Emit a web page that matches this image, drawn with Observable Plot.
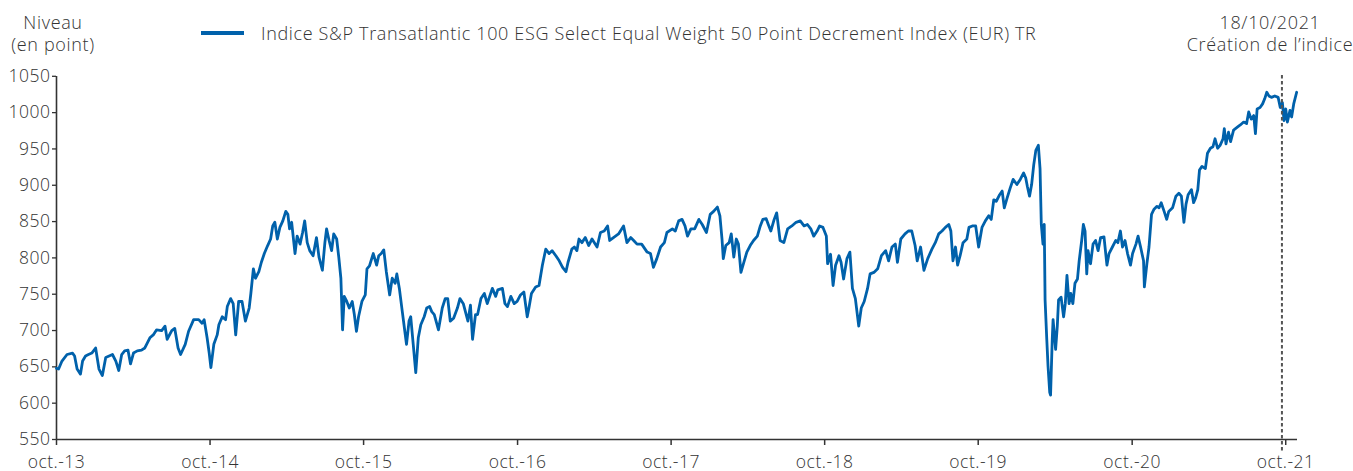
<!DOCTYPE html>
<html>
<head>
<meta charset="utf-8">
<script src="https://cdn.jsdelivr.net/npm/d3@7"></script>
<script src="https://cdn.jsdelivr.net/npm/@observablehq/plot@0.6"></script>
<style>
  body { margin: 0; background: #fff; }
  #wrap { position: relative; width: 1353px; height: 471px; font-family: "Open Sans", Lato, sans-serif; color: #333; font-weight: 300; }
  #wrap svg { position: absolute; left: 0; top: 0; }
  .lbl { position: absolute; font-size: 18px; letter-spacing: 0.65px; line-height: 22px; white-space: nowrap; }
  #swatch { position: absolute; left: 201px; top: 31px; width: 43px; height: 4px; }
</style>
</head>
<body>
<div id="wrap"></div>
<script>
// ---- data ----
const seriesName = "Indice S&P Transatlantic 100 ESG Select Equal Weight 50 Point Decrement Index (EUR) TR";
const yAxisTitle = ["Niveau", "(en point)"];
const creationLabel = ["18/10/2021", "Création de l\u2019indice"];
const creationRuleDate = "2021-09-22"; // where the dashed line sits in the picture
const xTickDates = ["2013-10-01","2014-10-01","2015-10-01","2016-10-01","2017-10-01","2018-10-01","2019-10-01","2020-10-01","2021-10-01"];
const xTickLabels = ["oct.-13","oct.-14","oct.-15","oct.-16","oct.-17","oct.-18","oct.-19","oct.-20","oct.-21"];
const yTicks = [550,600,650,700,750,800,850,900,950,1000,1050];

const y2013 = [["10-01",648],["10-06",647],["10-14",658],["10-26",667],["11-08",669],["11-13",665],["11-19",647],["11-27",640],["12-02",658],["12-09",665],["12-16",667],["12-24",669]];
const y2014 = [["01-02",676],["01-10",647],["01-18",638],["01-26",663],["02-03",665],["02-11",667],["02-19",658],["02-26",645],["03-05",667],["03-12",672],["03-20",673],["03-26",654],["04-02",669],["04-11",672],["04-21",673],["04-29",676],["05-11",690],["05-19",694],["05-27",701],["06-08",700],["06-16",706],["06-21",688],["07-02",700],["07-09",703],["07-17",676],["07-23",667],["08-03",681],["08-11",699],["08-23",715],["09-04",715],["09-12",710],["09-17",715],["09-24",690],["09-29",669],["10-03",649],["10-10",681],["10-18",694],["10-22",708],["10-30",719],["11-07",715],["11-11",733],["11-19",744],["11-25",737],["12-01",694],["12-08",740],["12-16",740],["12-24",713]];
const y2015 = [["01-02",731],["01-06",751],["01-12",785],["01-17",772],["01-25",781],["01-31",794],["02-07",806],["02-15",817],["02-22",826],["02-27",844],["03-04",849],["03-10",826],["03-16",842],["03-23",851],["03-30",864],["04-04",860],["04-08",840],["04-13",849],["04-21",806],["04-26",830],["05-03",819],["05-09",835],["05-14",851],["05-20",821],["05-26",810],["06-03",803],["06-11",828],["06-17",801],["06-25",783],["07-01",821],["07-05",840],["07-11",824],["07-17",810],["07-22",833],["07-29",826],["08-03",801],["08-08",772],["08-12",701],["08-16",747],["08-22",740],["08-28",731],["09-04",740],["09-09",722],["09-14",699],["09-19",719],["09-27",740],["10-05",749],["10-09",785],["10-15",789],["10-24",806],["11-01",790],["11-06",803],["11-12",806],["11-18",811],["11-24",781],["12-02",749],["12-08",772],["12-15",765],["12-19",778],["12-25",758]];
const y2016 = [["01-01",726],["01-07",699],["01-11",681],["01-17",713],["01-21",719],["01-27",681],["02-02",642],["02-08",690],["02-14",708],["02-22",719],["02-28",731],["03-06",733],["03-11",726],["03-17",722],["03-27",701],["04-05",731],["04-12",744],["04-18",744],["04-24",713],["05-02",717],["05-11",731],["05-17",744],["05-25",737],["06-05",713],["06-11",735],["06-16",688],["06-23",722],["06-28",722],["07-06",744],["07-14",751],["07-21",737],["08-02",758],["08-10",747],["08-15",756],["08-26",758],["09-01",737],["09-07",733],["09-15",747],["09-23",737],["09-30",740],["10-08",749],["10-16",753],["10-24",719],["10-28",731],["11-03",751],["11-13",760],["11-21",762],["11-29",790],["12-07",812],["12-15",806],["12-22",810],["12-31",803]];
const y2017 = [["01-08",796],["01-16",787],["01-24",781],["01-29",794],["02-07",812],["02-13",815],["02-19",810],["02-24",826],["03-03",821],["03-11",828],["03-19",817],["03-27",826],["04-08",815],["04-16",835],["04-25",837],["05-03",844],["05-08",824],["05-17",828],["05-29",833],["06-10",844],["06-18",821],["06-27",828],["07-04",824],["07-12",819],["07-23",819],["08-05",808],["08-13",806],["08-20",787],["08-28",799],["09-06",815],["09-15",821],["09-21",835],["10-04",840],["10-11",837],["10-19",851],["10-27",853],["11-03",844],["11-09",830],["11-17",840],["11-26",840],["12-06",853],["12-14",846],["12-24",835]];
const y2018 = [["01-02",860],["01-10",864],["01-19",870],["01-25",858],["01-30",826],["02-02",799],["02-08",817],["02-16",821],["02-21",833],["02-27",801],["03-05",826],["03-10",819],["03-16",780],["03-22",792],["03-30",808],["04-07",817],["04-15",824],["04-24",830],["05-01",844],["05-07",853],["05-15",854],["05-20",846],["05-26",837],["06-03",853],["06-09",862],["06-17",824],["06-26",821],["07-05",840],["07-15",844],["07-25",849],["08-04",851],["08-13",844],["08-21",846],["08-29",840],["09-05",830],["09-13",837],["09-19",844],["09-27",842],["10-05",830],["10-08",792],["10-15",805],["10-21",762],["10-27",790],["11-04",803],["11-09",794],["11-15",771],["11-23",799],["11-30",808],["12-06",758],["12-13",744],["12-21",706],["12-27",731]];
const y2019 = [["01-03",740],["01-11",758],["01-17",778],["01-26",780],["02-04",785],["02-13",803],["02-23",810],["03-02",796],["03-10",815],["03-18",819],["03-23",794],["03-31",826],["04-10",833],["04-18",837],["04-26",837],["05-04",817],["05-09",796],["05-17",815],["05-25",783],["06-03",799],["06-13",812],["06-21",821],["06-29",833],["07-07",837],["07-15",842],["07-23",846],["07-28",837],["08-02",796],["08-08",815],["08-13",790],["08-19",803],["08-26",821],["09-04",826],["09-09",842],["09-17",844],["09-25",844],["10-02",815],["10-10",842],["10-18",851],["10-26",858],["11-01",853],["11-07",880],["11-13",878],["11-21",887],["11-27",892],["12-02",869],["12-09",883],["12-16",896],["12-23",908]];
const y2020 = [["01-01",901],["01-09",908],["01-17",917],["01-22",910],["01-26",898],["01-31",885],["02-05",901],["02-10",928],["02-15",948],["02-21",955],["02-25",923],["02-28",846],["03-03",819],["03-06",846],["03-08",742],["03-12",688],["03-15",651],["03-19",615],["03-21",611],["03-25",688],["03-27",715],["04-02",674],["04-06",706],["04-09",742],["04-15",746],["04-21",719],["04-25",737],["04-29",776],["05-04",737],["05-08",751],["05-13",737],["05-18",765],["05-24",771],["05-28",796],["06-03",824],["06-07",846],["06-11",837],["06-15",778],["06-18",810],["06-24",792],["06-30",819],["07-06",824],["07-12",810],["07-18",828],["07-26",829],["08-02",790],["08-07",806],["08-15",815],["08-23",824],["08-28",821],["09-03",837],["09-08",815],["09-14",824],["09-20",806],["09-27",790],["10-02",806],["10-10",819],["10-15",830],["10-21",815],["10-28",796],["10-30",760],["11-05",792],["11-10",815],["11-16",860],["11-22",867],["11-29",871],["12-04",869],["12-09",876],["12-16",864],["12-22",853],["12-27",864]];
const y2021 = [["01-05",869],["01-13",885],["01-20",889],["01-26",885],["02-01",849],["02-06",874],["02-11",887],["02-19",894],["02-24",876],["03-01",883],["03-06",894],["03-10",921],["03-16",926],["03-24",923],["03-29",944],["04-05",951],["04-11",953],["04-16",964],["04-22",951],["04-28",955],["05-05",964],["05-08",978],["05-12",957],["05-18",973],["05-23",960],["05-30",976],["06-08",980],["06-15",983],["06-23",987],["06-30",985],["07-05",1001],["07-11",991],["07-17",996],["07-21",971],["07-25",1005],["08-01",1007],["08-07",1012],["08-12",1019],["08-17",1028],["08-22",1023],["08-28",1021],["09-05",1023],["09-13",1021],["09-18",1007],["09-23",1014],["09-27",989],["10-01",1005],["10-05",987],["10-11",1003],["10-15",994],["10-20",1012],["10-27",1028]];

// ---- build ----
const years = {2013: y2013, 2014: y2014, 2015: y2015, 2016: y2016, 2017: y2017, 2018: y2018, 2019: y2019, 2020: y2020, 2021: y2021};
const data = [];
for (const [yr, rows] of Object.entries(years)) {
  for (const [md, v] of rows) data.push({date: new Date(`${yr}-${md}`), value: v});
}
const lineColor = "#0061ab";
const ink = "#333";
const tickDates = xTickDates.map(d => new Date(d));
const tickLabelOf = new Map(tickDates.map((d, i) => [+d, xTickLabels[i]]));

const chart = Plot.plot({
  width: 1353,
  height: 471,
  marginLeft: 56,
  marginRight: 56,
  marginTop: 76,
  marginBottom: 32,
  style: {fontFamily: "'Open Sans', Lato, sans-serif", fontSize: "17.5px", letterSpacing: "0.5px", color: ink, fontWeight: 300, background: "transparent", overflow: "visible"},
  x: {type: "utc", domain: [new Date("2013-10-01"), new Date("2021-10-29")]},
  y: {domain: [550, 1050], range: [439, 75.8]},
  marks: [
    Plot.axisY({ticks: yTicks, tickFormat: d => String(d), tickSize: 4, tickPadding: 2, label: null, strokeWidth: 1.3}),
    Plot.axisX({ticks: tickDates, tickFormat: d => tickLabelOf.get(+d), tickSize: 6, tickPadding: 10, label: null, strokeWidth: 1.5}),
    Plot.ruleX([tickDates[0]], {stroke: ink, strokeWidth: 1.6}),
    Plot.ruleY([550], {stroke: ink, strokeWidth: 1.6}),
    Plot.lineY(data, {x: "date", y: "value", stroke: lineColor, strokeWidth: 2.8, strokeLinejoin: "round"}),
    Plot.ruleX([new Date(creationRuleDate)], {stroke: "#555", strokeWidth: 2, strokeDasharray: "3.5,2.5", insetTop: -1, insetBottom: -14})
  ]
});

const wrap = document.getElementById("wrap");
wrap.appendChild(chart);

function addLabel(lines, css) {
  const d = document.createElement("div");
  d.className = "lbl";
  d.innerHTML = lines.map(s => s.replace(/&/g, "&amp;")).join("<br>");
  Object.assign(d.style, css);
  wrap.appendChild(d);
}
addLabel(yAxisTitle, {left: "0px", width: "106px", textAlign: "center", top: "11px"});
addLabel(creationLabel, {left: "1180px", width: "180px", textAlign: "center", top: "11px"});
const sw = document.createElement("div");
sw.id = "swatch";
sw.style.background = lineColor;
wrap.appendChild(sw);
addLabel([seriesName], {left: "261px", top: "22px"});
</script>
</body>
</html>
